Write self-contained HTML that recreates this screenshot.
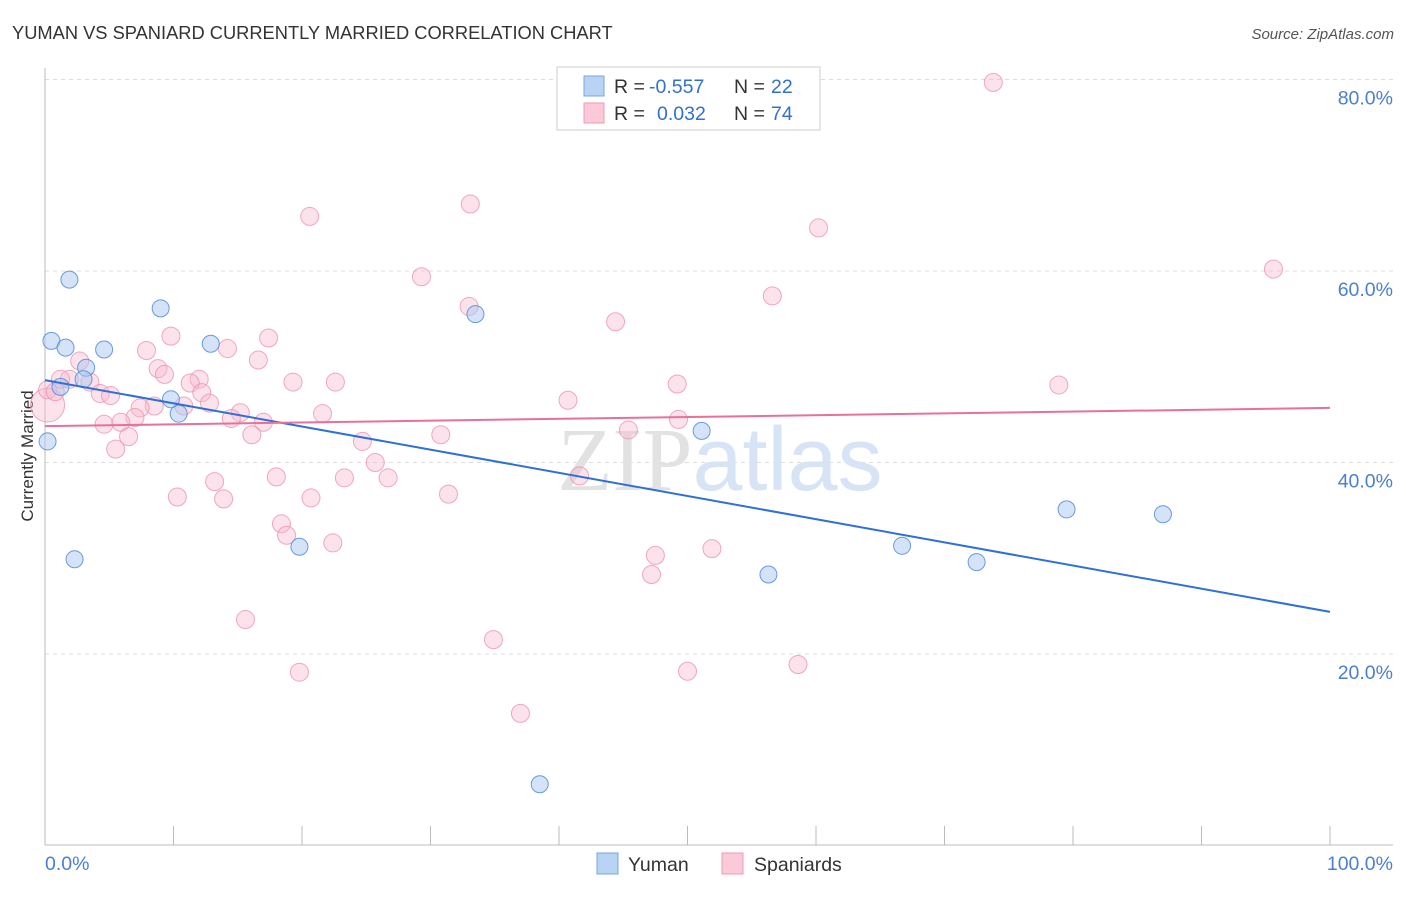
<!DOCTYPE html>
<html><head><meta charset="utf-8"><style>
body{margin:0;background:#fff;font-family:"Liberation Sans",sans-serif;}
svg text{font-family:"Liberation Sans",sans-serif;}
</style></head><body>
<svg id="chart" width="1406" height="892" viewBox="0 0 1406 892" xmlns="http://www.w3.org/2000/svg">
<text x="12" y="39" font-size="18.3" fill="#333">YUMAN VS SPANIARD CURRENTLY MARRIED CORRELATION CHART</text>
<text x="1394" y="39" font-size="15" fill="#555" font-style="italic" text-anchor="end">Source: ZipAtlas.com</text>
<g id="grid"></g>
<text x="720" y="490" font-size="90" text-anchor="middle" fill="#e9e9ee"><tspan font-family="Liberation Serif" fill="#e2e2e2">ZIP</tspan><tspan fill="#d6e4f5">atlas</tspan></text>
<line x1="45" y1="845" x2="1393" y2="845" stroke="#bbb"/>
<line x1="45" y1="68" x2="45" y2="845" stroke="#bbb"/>
<text transform="translate(33,456) rotate(-90)" font-size="17" fill="#333" text-anchor="middle">Currently Married</text>
<text x="45" y="870" font-size="19.5" fill="#4a7fd4">0.0%</text>
<text x="1393" y="870" font-size="19.5" fill="#4a7fd4" text-anchor="end">100.0%</text>
<g id="points"></g>
<g id="trends"></g>
<g>
<rect x="557" y="67" width="263" height="63" fill="#fff" stroke="#ccc"/>
<rect x="584" y="76" width="20" height="20" fill="#b9d3f5" stroke="#7aa6e0"/>
<rect x="584" y="103" width="20" height="20" fill="#fbc9d8" stroke="#ee9ab3"/>
<text x="614" y="93" font-size="19.5" fill="#333">R =</text>
<text x="649" y="93" font-size="19.5" fill="#3270d0">-0.557</text>
<text x="734" y="93" font-size="19.5" fill="#333">N =</text>
<text x="771" y="93" font-size="19.5" fill="#3270d0">22</text>
<text x="614" y="120" font-size="19.5" fill="#333">R =</text>
<text x="657" y="120" font-size="19.5" fill="#3270d0">0.032</text>
<text x="734" y="120" font-size="19.5" fill="#333">N =</text>
<text x="771" y="120" font-size="19.5" fill="#3270d0">74</text>
</g>
<g>
<rect x="597" y="853" width="21" height="21" fill="#b9d3f5" stroke="#7aa6e0"/>
<text x="628" y="871" font-size="19.5" fill="#333">Yuman</text>
<rect x="722" y="853" width="21" height="21" fill="#fbc9d8" stroke="#ee9ab3"/>
<text x="754" y="871" font-size="19.5" fill="#333">Spaniards</text>
</g>
</svg>
<script>
const yTicks=[20,40,60,80];
const xTickVals=[0,10,20,30,40,50,60,70,80,90,100];
const yumanX=[0.2,0.5,1.6,1.9,4.6,9.0,12.9,3.2,3.0,1.2,9.8,10.4,2.3,19.8,33.5,51.1,38.5,56.3,66.7,72.5,79.5,87.0];
const yumanY=[42.2,52.7,52.0,59.1,51.8,56.1,52.4,49.9,48.7,47.9,46.6,45.1,29.9,31.2,55.5,43.3,6.4,28.3,31.3,29.6,35.1,34.6];
const spanX=[0.2,0.2,0.8,20.6,33.1,73.8,60.2,95.6,29.3,56.6,33.0,44.4,9.8,17.4,14.2,7.9,2.7,16.6,8.8,9.3,1.9,1.2,3.5,12.0,11.3,19.3,22.6,49.2,78.9,4.3,5.1,12.2,12.8,8.5,7.4,10.8,15.2,21.6,40.7,7.0,14.5,17.0,4.6,5.9,45.4,49.3,16.1,6.5,30.8,24.7,5.5,25.7,18.0,23.3,26.7,41.6,13.2,10.3,13.9,20.7,31.4,18.4,18.8,22.4,51.9,47.5,47.2,15.6,34.9,19.8,50.0,58.6,37.0];
const spanY=[46.0,47.6,47.4,65.7,67.0,79.7,64.5,60.2,59.4,57.4,56.3,54.7,53.2,53.0,51.9,51.7,50.6,50.7,49.8,49.2,48.7,48.7,48.4,48.7,48.3,48.4,48.4,48.2,48.1,47.2,47.0,47.3,46.2,45.9,45.7,45.9,45.2,45.1,46.5,44.7,44.6,44.2,44.0,44.2,43.4,44.5,42.9,42.7,42.9,42.2,41.4,40.0,38.5,38.4,38.4,38.6,38.0,36.4,36.2,36.3,36.7,33.6,32.4,31.6,31.0,30.3,28.3,23.6,21.5,18.1,18.2,18.9,13.8];
const trendYuman=[48.6,24.4];
const trendSpan=[43.8,45.7];
const NS="http://www.w3.org/2000/svg";
const X=v=>45+v*12.85, Y=v=>845.5-v*9.575;
function mk(t,a,p){const e=document.createElementNS(NS,t);for(const k in a)e.setAttribute(k,a[k]);p.appendChild(e);return e;}
const grid=document.getElementById('grid');
yTicks.forEach(t=>{
 const l=mk('line',{x1:45,x2:1393,y1:Y(t),y2:Y(t),stroke:'#ddd','stroke-dasharray':'4,4'},grid);
 
 
 const tx=mk('text',{x:1393,y:Y(t)+25,'font-size':19.5,fill:'#4a7fd4','text-anchor':'end'},grid);
 tx.textContent=t.toFixed(1)+'%';
 
 
});
xTickVals.forEach(t=>{
 const l=mk('line',{x1:X(t),x2:X(t),y1:826,y2:845,stroke:'#bbb'},grid);
 
 
});
const pts=document.getElementById('points');
spanX.forEach((x,i)=>{
 const r=(i==0)?17:9;
 const c=mk('circle',{cx:X(x),cy:Y(spanY[i]),r:r,fill:'rgba(248,185,205,0.4)',stroke:'rgba(236,140,170,0.75)','stroke-width':1},pts);
 
 
});
yumanX.forEach((x,i)=>{
 const c=mk('circle',{cx:X(x),cy:Y(yumanY[i]),r:8.5,fill:'rgba(170,200,240,0.5)',stroke:'rgba(80,140,220,0.85)','stroke-width':1},pts);
 
 
});
const tr=document.getElementById('trends');
const a=mk('line',{x1:X(0),y1:Y(trendYuman[0]),x2:X(100),y2:Y(trendYuman[1]),stroke:'#2f6fd8','stroke-width':2},tr);


const b=mk('line',{x1:X(0),y1:Y(trendSpan[0]),x2:X(100),y2:Y(trendSpan[1]),stroke:'#e8709a','stroke-width':2},tr);


</script>
</body></html>
